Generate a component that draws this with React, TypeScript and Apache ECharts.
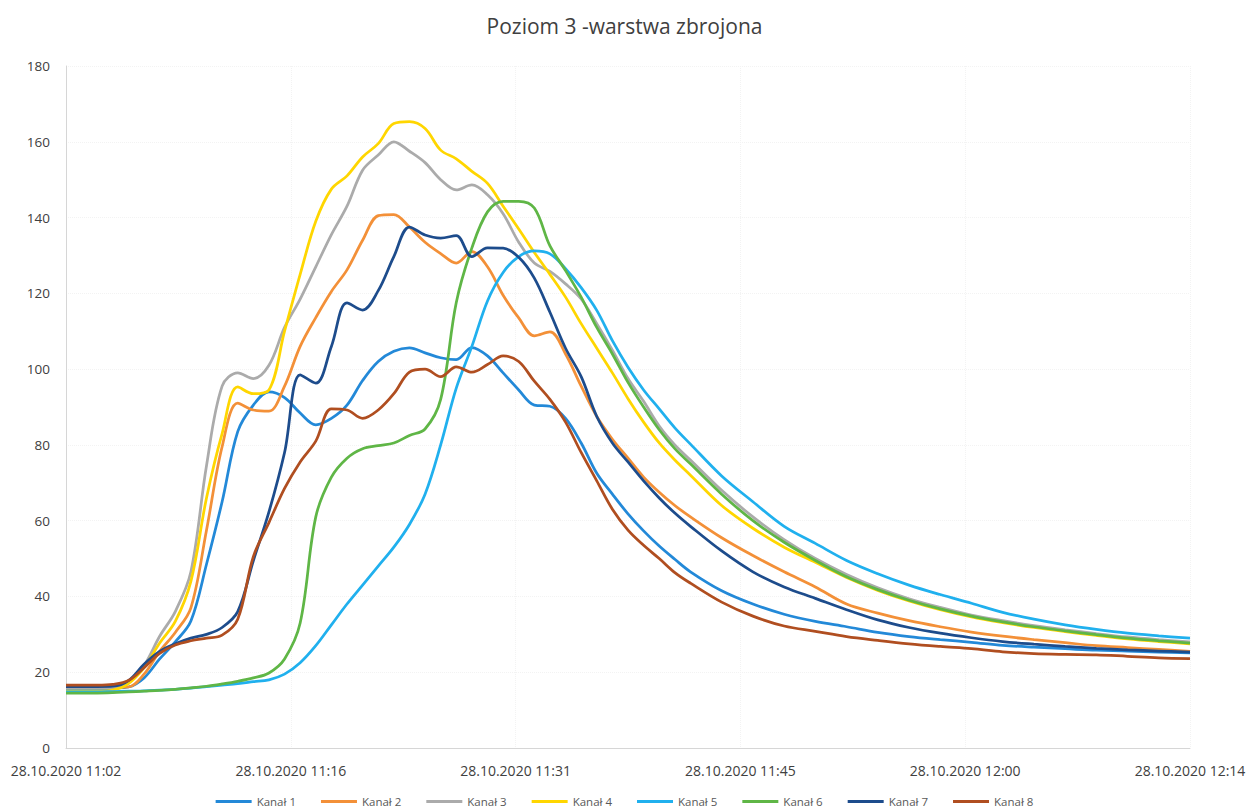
import React, { useEffect, useRef } from "react";
import * as echarts from "echarts";

// Minutes elapsed since 28.10.2020 11:02
const minutes = [
  0, 1, 2, 3, 4, 5, 6, 7, 8, 9, 10, 11, 12, 13, 14, 15, 16, 17, 18, 19, 20,
  21, 22, 23, 24, 25, 26, 27, 28, 29, 30, 31, 32, 33, 34, 35, 36, 37, 38, 39,
  40, 42, 44, 46, 48, 50, 52, 54, 56, 58, 60, 62, 64, 66, 68, 70, 72,
];

const kanal1 = [
  15.5, 15.5, 15.5, 15.8, 16.1, 18.5, 23.5, 28, 33.5, 48.5, 65, 83.5, 90.5, 94, 92.5, 88.4, 85.3, 87, 90.5, 97, 102,
  104.7, 105.6, 104.3, 103, 102.5, 105.7, 103.5, 99, 94.5, 90.5, 90.2, 87, 80.5, 72.5, 67, 61.8, 57.3, 53.3, 49.8,
  46.5, 41.5, 38, 35.3, 33.4, 32, 30.5, 29.4, 28.6, 27.9, 27.1, 26.6, 26.2, 25.8, 25.6, 25.3, 25.1,
];
const kanal2 = [
  16, 16, 16, 16, 16.1, 19.5, 25.5, 30.5, 37, 57.5, 79.5, 91, 89.2, 88.9, 95.5, 106, 113.6, 120.5, 126.2, 134, 140.5,
  140.8, 137.5, 133.5, 130.5, 128, 131, 127, 119.5, 113.5, 108.8, 109.8, 104, 95.5, 87.5, 81.5, 76.5, 71.5, 67.5, 64,
  61, 55.5, 50.8, 46.5, 42.5, 38, 35.6, 33.6, 32, 30.6, 29.5, 28.6, 27.8, 27, 26.5, 26, 25.5,
];
const kanal3 = [
  15.8, 15.8, 15.8, 16, 17.5, 21.8, 29.5, 36, 46.5, 74.5, 95.5, 99, 97.5, 101, 111, 118.5, 127, 135.5, 143, 152.5, 156.5,
  160, 157.5, 154.5, 150, 147.3, 148.6, 146, 141, 133.5, 128, 125.8, 122.5, 118.5, 112, 105, 97.5, 91.5, 85, 80,
  76, 68, 61, 55, 50, 45.8, 42.3, 39.4, 37.1, 35.1, 33.6, 32.3, 31.2, 30.2, 29.3, 28.6, 28,
];
const kanal4 = [
  15, 15, 15, 15.3, 17, 21.2, 27.7, 33.4, 44, 66, 83, 95.3, 93.5, 94.5, 110, 125, 139, 147.5, 151, 156, 159.5,
  164.8, 165.3, 163.5, 157.8, 155.5, 152.2, 149, 143, 137, 130.8, 125, 119, 112, 105.5, 99, 92.2, 86, 80.5, 76,
  72, 64, 58, 53, 49, 45, 41.6, 38.8, 36.5, 34.6, 33.1, 31.8, 30.7, 29.7, 28.8, 28.1, 27.5,
];
const kanal5 = [
  14.8, 14.8, 14.8, 14.9, 15, 15.1, 15.3, 15.5, 15.8, 16.2, 16.6, 17, 17.5, 18, 19.5, 22.5, 27, 32.5, 38, 43, 48,
  53, 59, 67, 80, 95, 106, 118, 125.5, 129.7, 131.2, 130.4, 126.5, 121.5, 115.5, 107.5, 100.5, 94.5, 89.5, 84.5,
  80.2, 71.8, 65, 58.5, 54, 49.5, 46, 43, 40.5, 38.2, 35.8, 34, 32.5, 31.3, 30.3, 29.6, 29,
];
const kanal6 = [
  14.5, 14.5, 14.5, 14.6, 14.8, 15, 15.2, 15.5, 15.9, 16.3, 16.9, 17.6, 18.5, 19.8, 23.5, 33, 61, 71.5, 76.5, 79, 79.8,
  80.5, 82.5, 84.2, 92, 117.6, 132, 141.5, 144.3, 144.3, 142.5, 132.5, 126, 119, 111, 104, 96.5, 90, 84, 79,
  75, 67, 60, 54.3, 49.5, 45.2, 41.8, 39, 36.7, 34.8, 33.3, 32, 30.9, 29.9, 29, 28.3, 27.7,
];
const kanal7 = [
  16.2, 16.2, 16.2, 16.3, 17.8, 22.1, 25.5, 27.5, 29, 30, 31.8, 36, 49.4, 62.3, 78, 98.5, 96.3, 106, 117.5, 115.6, 120.7,
  129.7, 137.5, 135.4, 134.6, 135.2, 129.7, 132, 131.9, 129.5, 124, 115, 105.5, 98, 87.5, 80.5, 75.5, 70.5, 66, 62,
  58.5, 52, 46.5, 42.5, 39.5, 36.5, 33.8, 31.8, 30.3, 29.1, 28.1, 27.4, 26.8, 26.3, 25.9, 25.6, 25.3,
];
const kanal8 = [
  16.6, 16.6, 16.6, 16.8, 17.8, 21.2, 25, 27.2, 28.3, 29, 29.8, 34, 50.5, 59.5, 68.5, 75.5, 81, 89.5, 89.2, 87, 89.2,
  93.5, 99.2, 100, 98, 100.6, 99.2, 101.2, 103.5, 102, 96.8, 92, 86, 78, 70.5, 63, 57.5, 53.5, 50, 46.3,
  43.5, 38.5, 34.8, 32.2, 30.8, 29.4, 28.4, 27.5, 26.8, 26.2, 25.4, 24.9, 24.7, 24.6, 24.2, 23.8, 23.6,
];

const seriesNames = ["Kanał 1", "Kanał 2", "Kanał 3", "Kanał 4", "Kanał 5", "Kanał 6", "Kanał 7", "Kanał 8"];
const seriesValues = [kanal1, kanal2, kanal3, kanal4, kanal5, kanal6, kanal7, kanal8];
const seriesColors = [
  "#2389D8", "#F39038", "#ABABAB", "#FFD600", "#20B0EE", "#5FB646", "#1D4C8C", "#B04E20",
];

const startMinuteOfDay = 11 * 60 + 2;
const datePrefix = "28.10.2020";
const yTicks = { min: 0, max: 180, interval: 20 };

const pad2 = (n: number) => (n < 10 ? "0" + n : String(n));
const formatTime = (seconds: number) => {
  const total = Math.round(startMinuteOfDay + seconds / 60);
  return `${datePrefix} ${Math.floor(total / 60)}:${pad2(total % 60)}`;
};

export default function App() {
  const ref = useRef<HTMLDivElement>(null);

  useEffect(() => {
    if (!ref.current) return;
    const chart = echarts.init(ref.current, null, { renderer: "svg" });
    const font = "'Open Sans', 'Noto Sans', sans-serif";

    chart.setOption({
      animation: false,
      backgroundColor: "#ffffff",
      textStyle: { fontFamily: font },
      title: {
        text: "Poziom 3 -warstwa zbrojona",
        left: "center",
        top: 10,
        textStyle: { fontSize: 21, fontWeight: "normal", color: "#404040", fontFamily: font },
      },
      grid: { left: 66, right: 59, top: 66, bottom: 63, containLabel: false },
      legend: {
        data: seriesNames,
        top: 795,
        left: "center",
        padding: 0,
        icon: "rect",
        itemWidth: 36,
        itemHeight: 3,
        itemGap: 25,
        textStyle: { fontSize: 11.5, lineHeight: 13, color: "#595959", fontFamily: font },
      },
      xAxis: {
        type: "value",
        min: 0,
        max: 72 * 60,
        interval: 864,
        axisLine: { show: true, lineStyle: { color: "#d6d6d6", width: 1 } },
        axisTick: { show: false },
        splitLine: { show: true, lineStyle: { color: "#f3f3f3", type: "dotted" } },
        axisLabel: {
          formatter: (v: number) => formatTime(v),
          fontSize: 14,
          color: "#404040",
          margin: 15,
          showMinLabel: true,
          showMaxLabel: true,
        },
      },
      yAxis: {
        type: "value",
        min: yTicks.min,
        max: yTicks.max,
        interval: yTicks.interval,
        axisLine: { show: true, lineStyle: { color: "#d6d6d6", width: 1 } },
        axisTick: { show: false },
        splitLine: { show: true, lineStyle: { color: "#f3f3f3", type: "dotted" } },
        axisLabel: { fontSize: 13.5, color: "#404040", margin: 16 },
      },
      series: seriesNames.map((name, i) => ({
        name,
        type: "line",
        smooth: 0.35,
        symbol: "none",
        showSymbol: false,
        color: seriesColors[i],
        lineStyle: { width: 2.75, color: seriesColors[i] },
        data: minutes.map((m, j) => [m * 60, seriesValues[i][j]]),
      })),
    });

    return () => chart.dispose();
  }, []);

  return (
    <div
      ref={ref}
      style={{ position: "fixed", left: 0, top: 0, width: 1249, height: 811, background: "#fff" }}
    />
  );
}
